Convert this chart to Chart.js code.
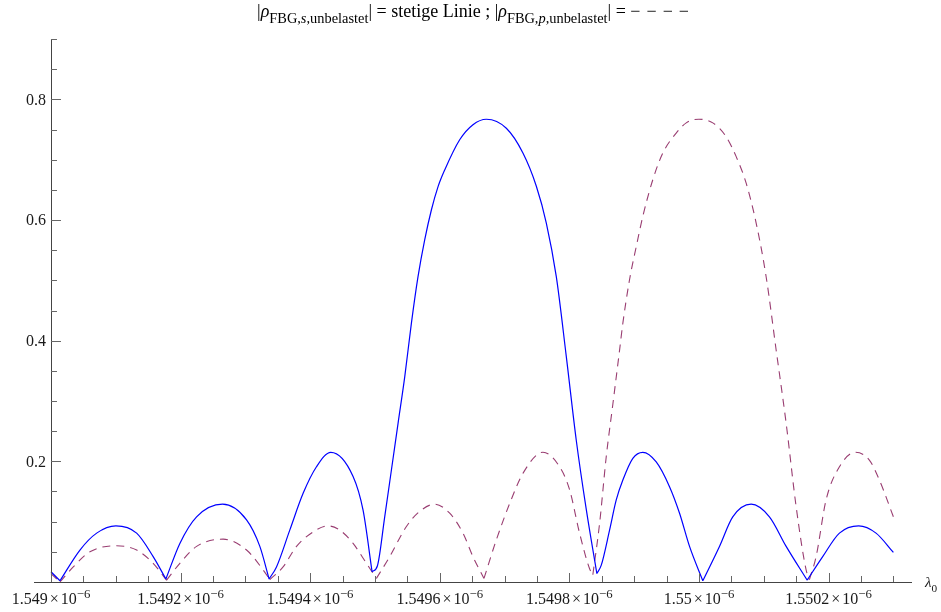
<!DOCTYPE html>
<html>
<head>
<meta charset="utf-8">
<title>FBG Reflexion</title>
<script src="https://cdn.jsdelivr.net/npm/chart.js@4.4.1/dist/chart.umd.min.js"></script>
<style>
    html, body { margin: 0; padding: 0; background: #ffffff; }
    #reflexion { display: block; }
</style>
</head>
<body>
<canvas id="reflexion" width="941" height="612"></canvas>
<script>
// Wellenlaenge in Meter
var lambdaS = [
    1.5490000e-6, 1.5490139e-6, 1.5490447e-6, 1.5490705e-6, 1.5491002e-6, 1.5491322e-6, 1.5491577e-6, 1.5491773e-6,
    1.5491989e-6, 1.5492247e-6, 1.5492648e-6, 1.5493018e-6, 1.5493223e-6, 1.5493366e-6, 1.5493480e-6, 1.5493685e-6,
    1.5493891e-6, 1.5494097e-6, 1.5494318e-6, 1.5494662e-6, 1.5494816e-6, 1.5494955e-6, 1.5495038e-6, 1.5495150e-6,
    1.5495254e-6, 1.5495356e-6, 1.5495459e-6, 1.5495562e-6, 1.5495664e-6, 1.5495767e-6, 1.5495871e-6, 1.5495972e-6,
    1.5496076e-6, 1.5496307e-6, 1.5496512e-6, 1.5496719e-6, 1.5497027e-6, 1.5497283e-6, 1.5497490e-6, 1.5497644e-6,
    1.5497798e-6, 1.5497952e-6, 1.5498106e-6, 1.5498261e-6, 1.5498424e-6, 1.5498492e-6, 1.5498620e-6, 1.5498723e-6,
    1.5498825e-6, 1.5498979e-6, 1.5499133e-6, 1.5499340e-6, 1.5499545e-6, 1.5499700e-6, 1.5499854e-6, 1.5500059e-6,
    1.5500316e-6, 1.5500521e-6, 1.5500805e-6, 1.5501087e-6, 1.5501345e-6, 1.5501669e-6, 1.5501909e-6, 1.5502167e-6,
    1.5502464e-6, 1.5502732e-6, 1.5503000e-6
];
var rhoS = [
    0.017, 0.002, 0.053, 0.081, 0.093, 0.081, 0.042, 0.005,
    0.064, 0.108, 0.129, 0.103, 0.059, 0.005, 0.025, 0.086,
    0.147, 0.191, 0.215, 0.175, 0.119, 0.017, 0.027, 0.108,
    0.186, 0.263, 0.340, 0.429, 0.506, 0.567, 0.617, 0.655,
    0.683, 0.733, 0.758, 0.767, 0.752, 0.711, 0.656, 0.595,
    0.506, 0.374, 0.235, 0.120, 0.014, 0.028, 0.086, 0.136,
    0.169, 0.205, 0.215, 0.199, 0.158, 0.114, 0.059, 0.002,
    0.059, 0.108, 0.129, 0.108, 0.059, 0.003, 0.042, 0.081,
    0.093, 0.081, 0.049
];

var lambdaP = [
    1.5490000e-6, 1.5490139e-6, 1.5490344e-6, 1.5490601e-6, 1.5491002e-6, 1.5491322e-6, 1.5491577e-6, 1.5491784e-6,
    1.5491989e-6, 1.5492247e-6, 1.5492657e-6, 1.5493018e-6, 1.5493274e-6, 1.5493377e-6, 1.5493582e-6, 1.5493789e-6,
    1.5494045e-6, 1.5494271e-6, 1.5494456e-6, 1.5494662e-6, 1.5494868e-6, 1.5495022e-6, 1.5495227e-6, 1.5495485e-6,
    1.5495690e-6, 1.5495921e-6, 1.5496153e-6, 1.5496358e-6, 1.5496512e-6, 1.5496682e-6, 1.5496873e-6, 1.5497078e-6,
    1.5497283e-6, 1.5497592e-6, 1.5497849e-6, 1.5498003e-6, 1.5498157e-6, 1.5498312e-6, 1.5498362e-6, 1.5498466e-6,
    1.5498569e-6, 1.5498671e-6, 1.5498774e-6, 1.5498825e-6, 1.5498928e-6, 1.5499032e-6, 1.5499133e-6, 1.5499288e-6,
    1.5499442e-6, 1.5499648e-6, 1.5499803e-6, 1.5499997e-6, 1.5500213e-6, 1.5500419e-6, 1.5500574e-6, 1.5500728e-6,
    1.5500882e-6, 1.5501036e-6, 1.5501190e-6, 1.5501345e-6, 1.5501499e-6, 1.5501653e-6, 1.5501704e-6, 1.5501807e-6,
    1.5501961e-6, 1.5502167e-6, 1.5502413e-6, 1.5502629e-6, 1.5502784e-6, 1.5503000e-6
];
var rhoP = [
    0.014, 0.000, 0.025, 0.050, 0.060, 0.053, 0.031, 0.003,
    0.031, 0.059, 0.071, 0.053, 0.020, 0.004, 0.025, 0.059,
    0.083, 0.093, 0.086, 0.064, 0.031, 0.006, 0.042, 0.092,
    0.117, 0.129, 0.114, 0.081, 0.042, 0.006, 0.070, 0.130,
    0.180, 0.215, 0.191, 0.153, 0.081, 0.022, 0.012, 0.097,
    0.208, 0.295, 0.384, 0.429, 0.501, 0.556, 0.606, 0.667,
    0.711, 0.744, 0.761, 0.767, 0.761, 0.738, 0.705, 0.661,
    0.595, 0.506, 0.385, 0.263, 0.125, 0.020, 0.004, 0.042,
    0.136, 0.191, 0.215, 0.202, 0.169, 0.108
];

// Achsenbeschriftung
var xTickWerte = [1.549e-6, 1.5492e-6, 1.5494e-6, 1.5496e-6, 1.5498e-6, 1.55e-6, 1.5502e-6];
var xTickTexte = ['1.549', '1.5492', '1.5494', '1.5496', '1.5498', '1.55', '1.5502'];
var yTickWerte = [0.2, 0.4, 0.6, 0.8];
var yTickTexte = ['0.2', '0.4', '0.6', '0.8'];

var schrift = '"Liberation Serif", "Times New Roman", serif';

// an jedem Minimum wird die Linie getrennt, damit dort eine Spitze entsteht
function punkte(xs, ys) {
    var out = [];
    xs.forEach(function (x, i) {
        out.push({ x: x, y: ys[i] });
        if (i > 0 && i < xs.length - 1 && ys[i] < ys[i - 1] && ys[i] < ys[i + 1]) {
            out.push({ x: x, y: null });
            out.push({ x: x, y: ys[i] });
        }
    });
    return out;
}

// Text mit Index / Exponent zeichnen
function zeichneText(ctx, teile, x, y, groesse, ausrichtung, faktor, tief) {
    faktor = faktor || 0.7;
    tief = tief || 0.3;
    var breite = 0;
    teile.forEach(function (t) {
        var g = t.sub || t.sup ? groesse * faktor : groesse;
        ctx.font = (t.italic ? 'italic ' : '') + g + 'px ' + schrift;
        t.w = ctx.measureText(t.text).width + (t.padL || 0) + (t.padR || 0);
        breite += t.w;
    });
    var start = x;
    if (ausrichtung === 'center') start = x - breite / 2;
    if (ausrichtung === 'right') start = x - breite;
    ctx.textBaseline = 'alphabetic';
    ctx.textAlign = 'left';
    teile.forEach(function (t) {
        var g = t.sub || t.sup ? groesse * faktor : groesse;
        ctx.font = (t.italic ? 'italic ' : '') + g + 'px ' + schrift;
        var dy = t.sub ? groesse * tief : (t.sup ? -groesse * 0.38 : 0);
        ctx.fillText(t.text, start + (t.padL || 0), y + dy);
        start += t.w;
    });
}

var achsenPlugin = {
    id: 'achsen',
    afterDatasetsDraw: function (chart) {
        var ctx = chart.ctx;
        var xs = chart.scales.x;
        var ys = chart.scales.y;
        var y0 = ys.getPixelForValue(0);
        var x0 = xs.getPixelForValue(1.549e-6);
        ctx.save();
        ctx.strokeStyle = '#444444';
        ctx.lineWidth = 1;
        ctx.beginPath();
        ctx.moveTo(xs.left, Math.round(y0) + 0.5);
        ctx.lineTo(xs.right, Math.round(y0) + 0.5);
        ctx.moveTo(Math.round(x0) + 0.5, ys.top);
        ctx.lineTo(Math.round(x0) + 0.5, y0);
        ctx.stroke();

        // Teilstriche x
        ctx.strokeStyle = '#666666';
        ctx.beginPath();
        for (var i = 0; i <= 26; i++) {
            var v = 1.549e-6 + i * 0.05e-9;
            var px = Math.round(xs.getPixelForValue(v)) + 0.5;
            var len = i % 4 === 0 ? 9 : 6;
            ctx.moveTo(px, y0);
            ctx.lineTo(px, y0 - len);
        }
        // Teilstriche y
        for (var j = 1; j <= 18; j++) {
            var py = Math.round(ys.getPixelForValue(j * 0.05)) + 0.5;
            var l = j % 4 === 0 ? 10 : 6;
            ctx.moveTo(x0, py);
            ctx.lineTo(x0 + l, py);
        }
        ctx.stroke();

        ctx.fillStyle = '#1a1a1a';
        xTickWerte.forEach(function (v, k) {
            var px = xs.getPixelForValue(v);
            zeichneText(ctx, [
                { text: xTickTexte[k] },
                { text: '\u00d7', padL: 2, padR: 2 },
                { text: '10' },
                { text: '\u22126', sup: true }
            ], px, y0 + 22, 16, 'center', 0.8);
        });
        yTickWerte.forEach(function (v, k) {
            var py = ys.getPixelForValue(v);
            ctx.font = '16px ' + schrift;
            ctx.textAlign = 'right';
            ctx.textBaseline = 'middle';
            ctx.fillText(yTickTexte[k], x0 - 5, py + 1);
        });

        // Achsenname
        zeichneText(ctx, [
            { text: '\u03bb', italic: true },
            { text: '0', sub: true }
        ], xs.right + 13, y0 + 5, 15, 'left', 0.75);

        // Titel
        ctx.fillStyle = '#000000';
        zeichneText(ctx, [
            { text: '|' },
            { text: '\u03c1', italic: true },
            { text: 'FBG,', sub: true },
            { text: 's', sub: true, italic: true },
            { text: ',unbelastet', sub: true },
            { text: '| = stetige Linie ; |' },
            { text: '\u03c1', italic: true },
            { text: 'FBG,', sub: true },
            { text: 'p', sub: true, italic: true },
            { text: ',unbelastet', sub: true },
            { text: '| = ' },
            { text: '\u2212', padR: 6 },
            { text: '\u2212', padR: 6 },
            { text: '\u2212', padR: 6 },
            { text: '\u2212' }
        ], 473, 17, 18, 'center', 0.8, 0.34);
        ctx.restore();
    }
};

var reflexionChart = new Chart(document.getElementById('reflexion'), {
    type: 'line',
    data: {
        datasets: [{
            label: 'rho s',
            data: punkte(lambdaS, rhoS),
            borderColor: '#0000ff',
            borderWidth: 1.2,
            pointRadius: 0,
            cubicInterpolationMode: 'monotone',
            spanGaps: false,
            clip: false,
            fill: false
        }, {
            label: 'rho p',
            data: punkte(lambdaP, rhoP),
            borderColor: '#993d71',
            borderWidth: 1.1,
            borderDash: [8, 6],
            pointRadius: 0,
            cubicInterpolationMode: 'monotone',
            spanGaps: false,
            clip: false,
            fill: false
        }]
    },
    options: {
        responsive: false,
        devicePixelRatio: 1,
        animation: false,
        layout: {
            padding: { left: 34, right: 29, top: 39, bottom: 30 }
        },
        plugins: {
            legend: { display: false },
            tooltip: { enabled: false },
            title: { display: false }
        },
        scales: {
            x: {
                type: 'linear',
                min: 1.5489738e-6,
                max: 1.5503287e-6,
                display: false
            },
            y: {
                min: 0,
                max: 0.9,
                display: false
            }
        }
    },
    plugins: [achsenPlugin]
});
</script>
</body>
</html>
